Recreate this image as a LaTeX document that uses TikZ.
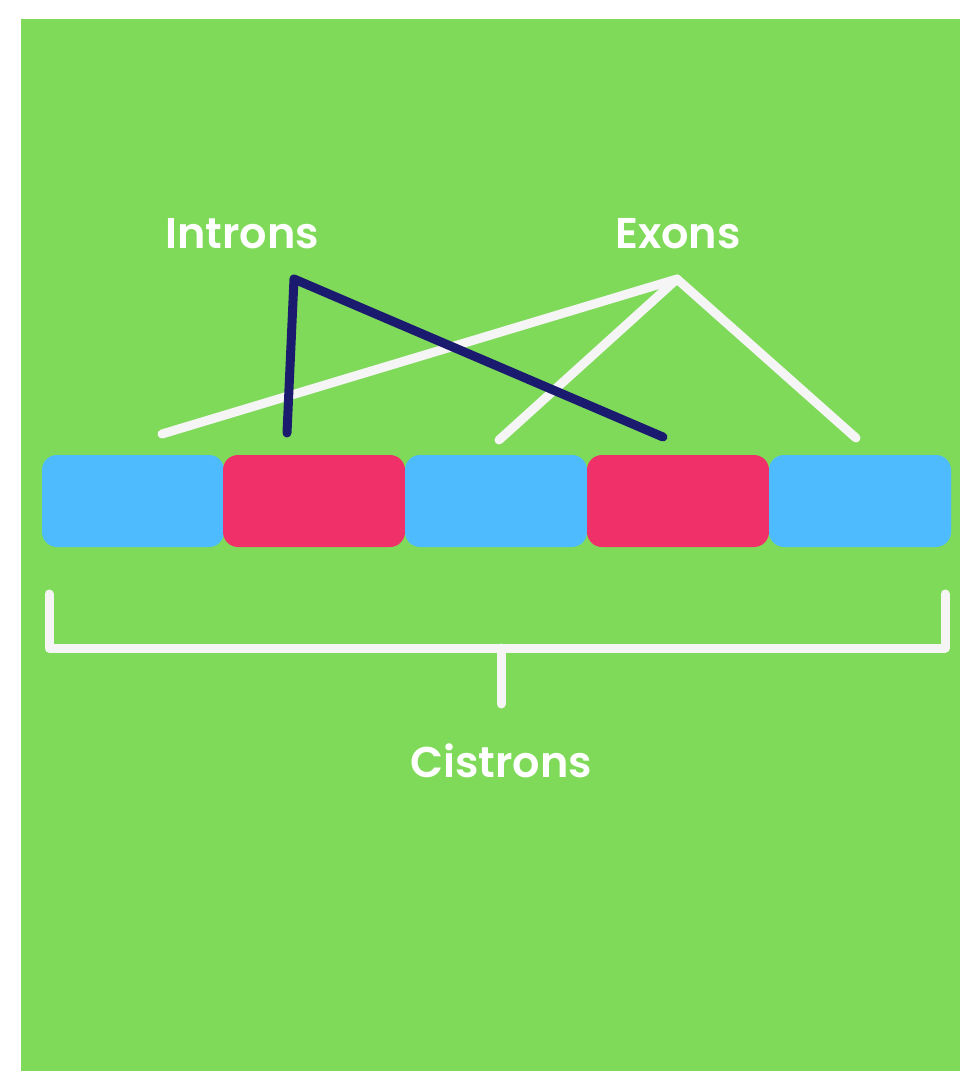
\documentclass[tikz,border=0pt]{standalone}
\usepackage{fontspec}
\setsansfont{Poppins}[BoldFont={Poppins SemiBold}]
\usetikzlibrary{positioning}
\definecolor{bggreen}{HTML}{80DA5A}
\definecolor{exonblue}{HTML}{4FBBFF}
\definecolor{intronred}{HTML}{F03068}
\definecolor{linkwhite}{HTML}{F5F5F5}
\definecolor{linknavy}{HTML}{1A1A6E}

\begin{document}
\begin{tikzpicture}[
	x=1pt, y=-1pt,
	segment/.style={
		rounded corners=15pt, minimum width=182pt, minimum height=92pt,
		inner sep=0pt, outer sep=0pt
	},
	exon/.style={segment, fill=exonblue},
	intron/.style={segment, fill=intronred},
	title/.style={font=\sffamily\bfseries\fontsize{43}{50}\selectfont, text=white},
	exonlink/.style={line width=9pt, linkwhite, line cap=round, line join=round},
	intronlink/.style={line width=9pt, linknavy, line cap=round, line join=round}
	]
	
	% Page and background
	\useasboundingbox (0,0) rectangle (960,1071);
	\fill[bggreen] (21,19) rectangle (960,1071);
	
	% Gene segments
	\node[exon]   (e1) at (133,501) {};
	\node[intron] (i1) at (314,501) {};
	\node[exon]   (e2) at (496,501) {};
	\node[intron] (i2) at (678,501) {};
	\node[exon]   (e3) at (860,501) {};
	
	% Labels
	\node[title] (introns)  at (242,234) {Introns};
	\node[title] (exons)    at (678,234) {Exons};
	\node[title] (cistrons) at (501,761) {Cistrons};
	
	% Apex points of the pointer lines
	\coordinate (iapex) at (294,279);
	\coordinate (eapex) at (677,279);
	
	% --- Pointer lines ---
	
	% Exons
	\draw[exonlink] (162,434) -- (eapex) -- (856,438);
	\draw[exonlink] (499,440) -- (eapex);
	
	% Introns
	\draw[intronlink] (287,433) -- (iapex) -- (663,437);
	
	% Cistron bracket
	\coordinate (bl) at (49,594);
	\coordinate (br) at (945,594);
	\coordinate (bm) at (501,648);
	\draw[exonlink] (bl) |- (br |- bm) -- (br);
	\draw[exonlink] (bm) -- (501,704);
\end{tikzpicture}
\end{document}
